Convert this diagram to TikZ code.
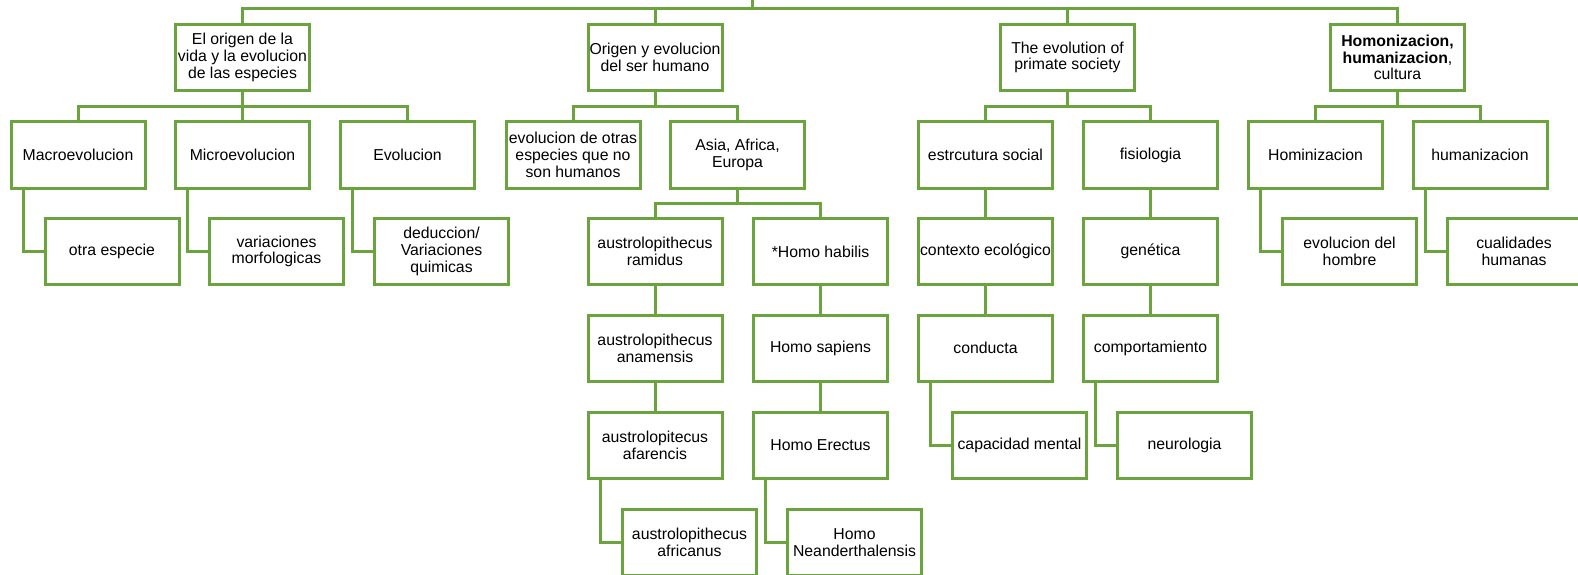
\documentclass[tikz,border=0pt]{standalone}
\usepackage{fontspec}
\setmainfont{Liberation Sans}
\definecolor{linegreen}{RGB}{107,163,62}
\begin{document}
\begin{tikzpicture}[x=1pt,y=-1pt,
  box/.style={draw=linegreen,line width=3pt,fill=white,rectangle,minimum width=134pt,minimum height=66pt,
    inner sep=0pt,align=center,font=\fontsize{15.8pt}{16.8pt}\selectfont},
  conn/.style={draw=linegreen,line width=3pt}]
\useasboundingbox (0,0) rectangle (1578,575);
% level 1
\node[box] (o1) at (242.5,57.5) {El origen de la\\vida y la evolucion\\de las especies};
\node[box] (o2) at (655,57.5) {Origen y evolucion\\del ser humano};
\node[box] (o3) at (1067.5,57.5) {The evolution of\\primate society};
\node[box] (o4) at (1397.5,57.5) {\textbf{Homonizacion,}\\\textbf{humanizacion}, \\cultura};
% level 2
\node[box] (macro) at (78,155) {Macroevolucion};
\node[box] (micro) at (242.5,155) {Microevolucion};
\node[box] (evol) at (407.5,155) {Evolucion};
\node[box] (otras) at (573,155) {evolucion de otras\\especies que no\\son humanos};
\node[box] (asia) at (737.5,155) {Asia, Africa,\\Europa};
\node[box] (estr) at (985.5,155) {estrcutura social};
\node[box] (fisio) at (1150.5,155) {fisiologia};
\node[box] (homin) at (1315.5,155) {Hominizacion};
\node[box] (human) at (1480,155) {humanizacion};
% level 3
\node[box] (otra) at (112,251.5) {otra especie};
\node[box] (vari) at (276.5,251.5) {variaciones\\morfologicas};
\node[box] (dedu) at (441.5,251.5) {deduccion/\\Variaciones\\quimicas};
\node[box] (rami) at (655,251.5) {austrolopithecus\\ramidus};
\node[box] (habi) at (820.5,251.5) {*Homo habilis};
\node[box] (cont) at (985.5,251.5) {contexto ecológico};
\node[box] (gene) at (1150.5,251.5) {genética};
\node[box] (hombre) at (1349.5,251.5) {evolucion del\\hombre};
\node[box] (cuali) at (1514,251.5) {cualidades\\humanas};
% level 4
\node[box] (anam) at (655,348) {austrolopithecus\\anamensis};
\node[box] (sapi) at (820.5,348) {Homo sapiens};
\node[box] (cond) at (985.5,348) {conducta};
\node[box] (comp) at (1150.5,348) {comportamiento};
% level 5
\node[box] (afar) at (655,445) {austrolopitecus\\afarencis};
\node[box] (erec) at (820.5,445) {Homo Erectus};
\node[box] (capa) at (1019.5,445) {capacidad mental};
\node[box] (neur) at (1184.5,445) {neurologia};
% level 6
\node[box] (afri) at (689.5,542.5) {austrolopithecus\\africanus};
\node[box] (nean) at (854.5,542.5) {Homo\\Neanderthalensis};
% connectors
\coordinate (root) at (752,-3);
\coordinate (topbus) at (0,9);
\draw[conn] (root) -- (root |- topbus);
\draw[conn] (o1.north) |- (topbus -| o4.north) -- (o4.north);
\foreach \c in {o2,o3} \draw[conn] (\c.north) -- (\c.north |- topbus);
\coordinate (bus2) at (0,106.5);
\foreach \p/\a/\b in {o1/macro/evol,o2/otras/asia,o3/estr/fisio,o4/homin/human}{
  \draw[conn] (\p.south) -- (\p.south |- bus2);
  \draw[conn] (\a.north) |- (bus2 -| \b.north) -- (\b.north);
}
\draw[conn] (micro.north) -- (micro.north |- bus2);
\coordinate (bus3) at (0,203.5);
\draw[conn] (asia.south) -- (asia.south |- bus3);
\draw[conn] (rami.north) |- (bus3 -| habi.north) -- (habi.north);
% straight chains
\draw[conn] (rami.south) -- (anam.north);
\draw[conn] (anam.south) -- (afar.north);
\draw[conn] (habi.south) -- (sapi.north);
\draw[conn] (sapi.south) -- (erec.north);
\draw[conn] (estr.south) -- (cont.north);
\draw[conn] (cont.south) -- (cond.north);
\draw[conn] (fisio.south) -- (gene.north);
\draw[conn] (gene.south) -- (comp.north);
% elbow connectors
\foreach \p/\c in {macro/otra,micro/vari,evol/dedu,homin/hombre,human/cuali,afar/afri,erec/nean,cond/capa,comp/neur}{
  \draw[conn] ([xshift=-55pt]\p.south) |- (\c.west);
}
\end{tikzpicture}
\end{document}
